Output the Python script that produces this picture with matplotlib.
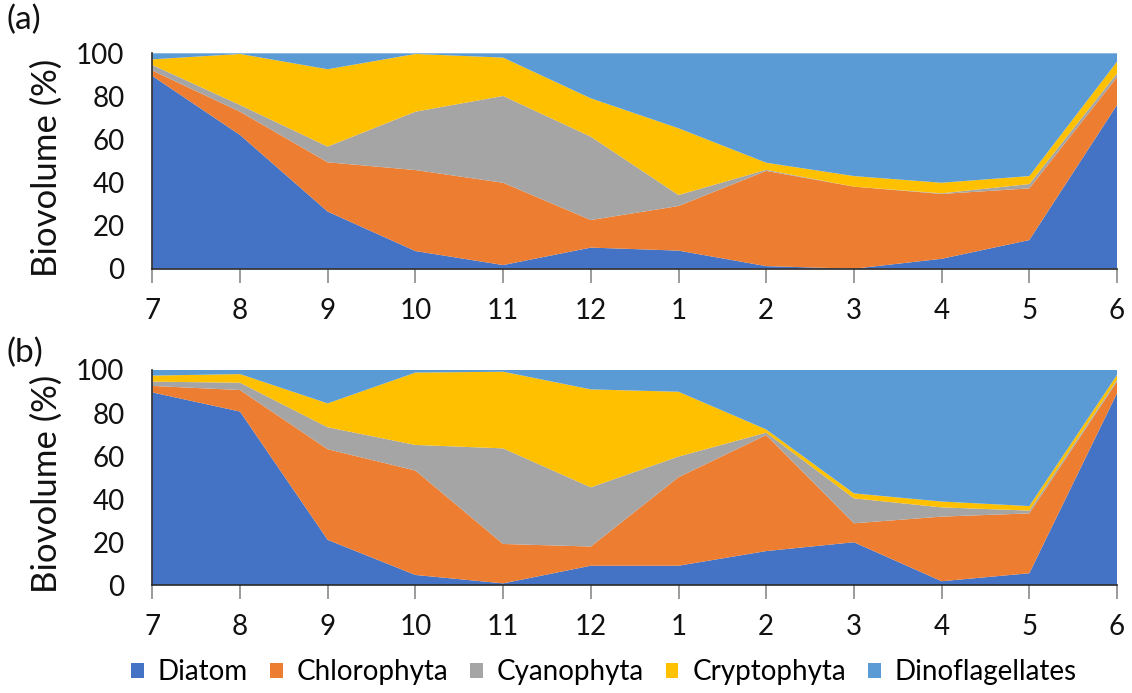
import matplotlib
matplotlib.use("Agg")
import matplotlib.pyplot as plt
from matplotlib.patches import Patch

plt.rcParams['font.family'] = ['Lato', 'DejaVu Sans']

months = ["7", "8", "9", "10", "11", "12", "1", "2", "3", "4", "5", "6"]
groups = ["Diatom", "Chlorophyta", "Cyanophyta", "Cryptophyta", "Dinoflagellates"]
colors = ["#4472C4", "#ED7D31", "#A5A5A5", "#FFC000", "#5B9BD5"]

# Panel (a)
a_diatom = [89.5, 62.1, 26.5, 8.2, 1.7, 9.8, 8.4, 1.2, 0.0, 4.6, 13.3, 76.0]
a_chloro = [2.5, 10.8, 22.9, 37.6, 38.2, 12.8, 20.7, 44.2, 38.1, 30.1, 24.0, 12.9]
a_cyano = [2.6, 3.1, 7.3, 27.1, 40.3, 38.7, 5.1, 0.5, 0.0, 0.3, 2.0, 1.8]
a_crypto = [2.6, 23.7, 35.9, 26.8, 17.8, 17.8, 31.0, 3.3, 4.9, 4.9, 3.7, 5.4]
a_dino = [2.8, 0.3, 7.4, 0.3, 2.0, 20.9, 34.8, 50.8, 57.0, 60.1, 57.0, 3.9]

# Panel (b)
b_diatom = [89.6, 80.7, 21.1, 4.8, 0.9, 9.1, 9.1, 15.9, 20.0, 1.9, 5.6, 89.2]
b_chloro = [3.0, 10.0, 42.1, 48.5, 18.3, 8.9, 41.1, 53.9, 8.8, 30.0, 27.8, 5.4]
b_cyano = [2.0, 3.4, 10.2, 11.9, 44.4, 27.5, 9.6, 1.1, 11.6, 4.3, 1.3, 0.8]
b_crypto = [2.8, 4.0, 11.1, 33.6, 35.6, 45.5, 30.1, 1.5, 2.3, 2.7, 2.1, 2.3]
b_dino = [2.6, 1.9, 15.5, 1.2, 0.8, 9.0, 10.1, 27.6, 57.3, 61.1, 63.2, 2.3]

W, H = 1132, 693
fig = plt.figure(figsize=(W / 100, H / 100), dpi=100)

left = 152.3 / W
width = (1117 - 152.3) / W
ax_a = fig.add_axes([left, 1 - 268.7 / H, width, 215.4 / H])
ax_b = fig.add_axes([left, 1 - 585.3 / H, width, 215.3 / H])

x = list(range(len(months)))
for ax, data, label, ly in [
    (ax_a, [a_diatom, a_chloro, a_cyano, a_crypto, a_dino], "(a)", 20),
    (ax_b, [b_diatom, b_chloro, b_cyano, b_crypto, b_dino], "(b)", 353),
]:
    ax.stackplot(x, *data, colors=colors, linewidth=0)
    ax.set_xlim(0, len(months) - 1)
    ax.set_ylim(0, 100)
    ax.set_yticks([0, 20, 40, 60, 80, 100])
    ax.set_xticks(x)
    ax.set_xticklabels(months)
    for s in ["top", "right"]:
        ax.spines[s].set_visible(False)
    for s in ["left", "bottom"]:
        ax.spines[s].set_color("#2b2b2b")
        ax.spines[s].set_linewidth(1.2)
    ax.tick_params(axis="y", length=0, pad=20, labelsize=20, labelcolor="#111111")
    ax.tick_params(axis="x", length=10, width=1.2, color="#8a8a8a", pad=11,
                   labelsize=20, labelcolor="#111111")
    ax.set_ylabel("Biovolume (%)", fontsize=25, color="#111111")
    ax.yaxis.set_label_coords(-0.093, 0.47)
    fig.text(6 / W, 1 - ly / H, label, fontsize=24, va="center", ha="left",
             color="#111111")

handles = [Patch(facecolor=c, edgecolor="none") for c in colors]
fig.legend(handles, groups, loc="center", bbox_to_anchor=(604 / W, 1 - 672 / H),
           ncol=5, frameon=False, fontsize=20, handlelength=0.45, handleheight=0.45,
           handletextpad=0.5, columnspacing=0.8, borderpad=0.1)

fig.savefig("out.png", dpi=100)
